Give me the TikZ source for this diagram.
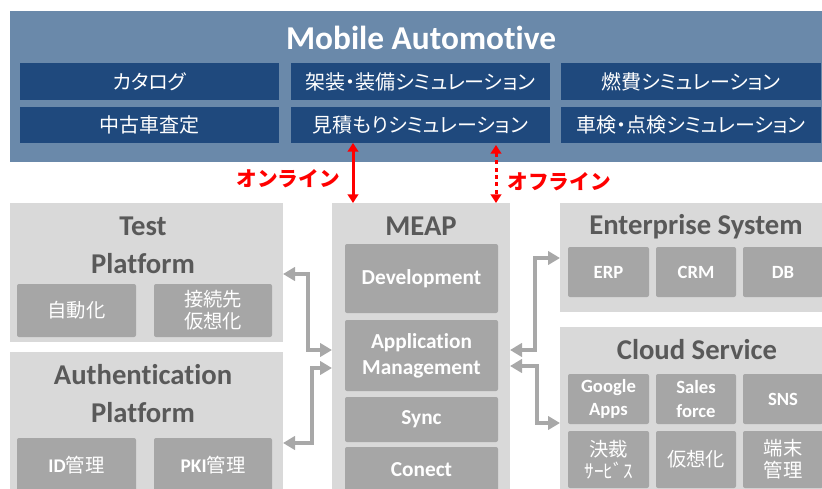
\documentclass[tikz,border=0pt]{standalone}
\usepackage{fontspec}
\setmainfont{Carlito}[Ligatures={NoCommon,NoContextual}, RawFeature={-liga;-calt;-dlig}]
\newfontfamily\jp{Noto Sans CJK JP}[RawFeature=+palt]
\newfontfamily\jpf{Noto Sans CJK JP}
\usetikzlibrary{arrows.meta}
\definecolor{bannerblue}{HTML}{6A89AA}
\definecolor{darkblue}{HTML}{1F497D}
\definecolor{panelgray}{HTML}{D9D9D9}
\definecolor{subgray}{HTML}{A6A6A6}
\definecolor{titlegray}{HTML}{595959}
\definecolor{arrowgray}{HTML}{A8A8A8}
\newcommand\pxbox[7]{\node[#6, minimum width={(#4-#2)*0.75pt}, minimum height={(#5-#3)*0.75pt}] (#1) at ({(#2+#4)/2},{(#3+#5)/2}) {#7};}
\tikzset{
  base/.style={inner sep=0pt, outer sep=0pt, align=center},
  banner/.style={base, fill=bannerblue},
  dbox/.style={base, fill=darkblue, text=white, font=\jp\fontsize{15}{18}\selectfont},
  panel/.style={base, fill=panelgray},
  sbox/.style={base, fill=subgray, rounded corners=1.5pt, text=white, font=\bfseries\fontsize{14}{17.5}\selectfont},
  mbox/.style={sbox, font=\bfseries\fontsize{16}{19.5}\selectfont},
  jbox/.style={sbox, font=\jpf\fontsize{14.5}{16.5}\selectfont},
  ptitle/.style={base, text=titlegray, font=\bfseries\fontsize{21.5}{28.5}\selectfont},
  garrow/.style={draw=arrowgray, line width=3pt, {Triangle[length=9pt,width=10pt]}-{Triangle[length=9pt,width=10pt]}},
  rarrow/.style={draw=red, line width=2.25pt, {Triangle[length=6.5pt,width=8pt]}-{Triangle[length=6.5pt,width=8pt]}},
  rlabel/.style={base, text=red, font=\jpf\bfseries\fontsize{15.5}{18}\selectfont}
}
\begin{document}
\begin{tikzpicture}[x=0.75pt,y=-0.75pt]
\useasboundingbox (0,0) rectangle (822,489);
% banner
\pxbox{banner}{10}{11}{822}{162}{banner}{}
\node[base, text=white, font=\bfseries\fontsize{25}{30}\selectfont] (mobtitle) at (421,38) {Mobile Automotive};
\pxbox{b11}{20}{63}{279}{100}{dbox}{カタログ}
\pxbox{b12}{291}{63}{550}{100}{dbox}{架装・装備シミュレーション}
\pxbox{b13}{561}{63}{821}{100}{dbox}{燃費シミュレーション}
\pxbox{b21}{20}{107}{279}{143}{dbox}{中古車査定}
\pxbox{b22}{291}{107}{550}{143}{dbox}{見積もりシミュレーション}
\pxbox{b23}{561}{107}{821}{143}{dbox}{車検・点検シミュレーション}
% Test Platform
\pxbox{tp}{10}{203}{283}{342}{panel}{}
\node[ptitle] (tptitle) at (143,245) {Test\\Platform};
\pxbox{tp1}{17}{284}{136}{337}{jbox}{自動化}
\pxbox{tp2}{154}{284}{272}{337}{jbox}{接続先\\仮想化}
% Authentication Platform
\pxbox{ap}{10}{352}{283}{520}{panel}{}
\node[ptitle] (aptitle) at (143,394) {Authentication\\Platform};
\pxbox{ap1}{17}{438}{136}{492}{jbox}{{\bfseries\fontspec{Carlito}ID}管理}
\pxbox{ap2}{154}{438}{272}{492}{jbox}{{\bfseries\fontspec{Carlito}PKI}管理}
% MEAP
\pxbox{meap}{332}{203}{510}{520}{panel}{}
\node[ptitle] (meaptitle) at (421,226) {MEAP};
\pxbox{m1}{345}{244}{498}{313}{mbox}{Development}
\pxbox{m2}{345}{320}{498}{391}{mbox}{Application\\Management}
\pxbox{m3}{345}{397}{498}{442}{mbox}{Sync}
\pxbox{m4}{345}{447}{498}{493}{mbox}{Conect}
% Enterprise System
\pxbox{es}{560}{203}{830}{312}{panel}{}
\node[ptitle] (estitle) at (696,227) {Enterprise System};
\pxbox{es1}{568}{247}{649}{297}{sbox}{ERP}
\pxbox{es2}{656}{247}{736}{297}{sbox}{CRM}
\pxbox{es3}{743}{247}{823}{297}{sbox}{DB}
% Cloud Service
\pxbox{cs}{560}{327}{830}{520}{panel}{}
\node[ptitle] (cstitle) at (697,350) {Cloud Service};
\pxbox{cs1}{568}{374}{649}{424}{sbox}{Google\\Apps}
\pxbox{cs2}{656}{374}{736}{424}{sbox}{Sales\\force}
\pxbox{cs3}{743}{374}{823}{424}{sbox}{SNS}
\pxbox{cs4}{568}{431}{649}{488}{jbox}{決裁\\ｻｰﾋﾞｽ}
\pxbox{cs5}{656}{431}{736}{488}{jbox}{仮想化}
\pxbox{cs6}{743}{431}{823}{488}{jbox}{端末\\管理}
% red arrows
\draw[rarrow] (353,0 |- b22.south) -- (353,0 |- meap.north);
\draw[rarrow, dash pattern=on 3pt off 2.5pt] (496,145) -- (496,0 |- meap.north);
\node[rlabel] (online) at (288,179) {オンライン};
\node[rlabel] (offline) at (559,182) {オフライン};
% gray connectors
\draw[garrow] (tp.east |- 0,274) -- (308,274) -- (308,350) -- (meap.west |- 0,350);
\draw[garrow] (meap.west |- 0,368) -- (312,368) -- (312,443) -- (ap.east |- 0,443);
\draw[garrow] (meap.east |- 0,350) -- (535,350) -- (535,258) -- (es.west |- 0,258);
\draw[garrow] (meap.east |- 0,366) -- (537,366) -- (537,423) -- (cs.west |- 0,423);
\end{tikzpicture}
\end{document}
